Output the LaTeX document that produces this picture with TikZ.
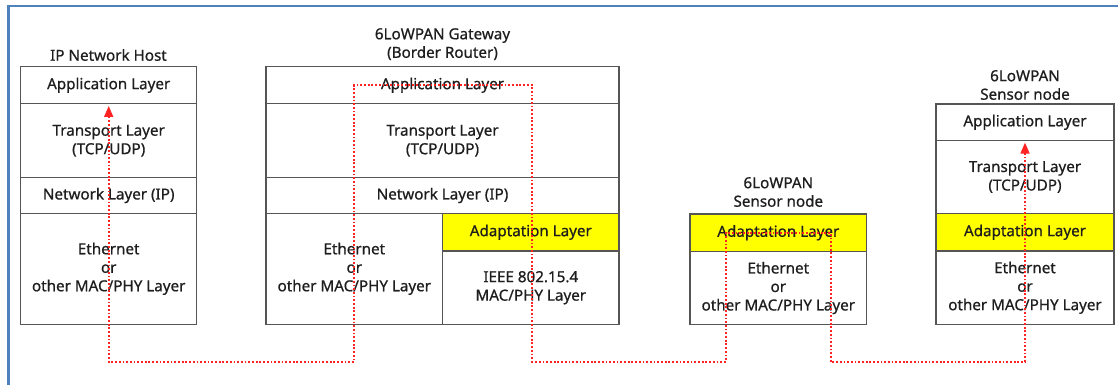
\documentclass[tikz,border=0pt]{standalone}
\usepackage{fontspec}
\setmainfont{Noto Sans}
\newfontface\layface{Noto Sans}[FakeBold=0.7]
\usetikzlibrary{arrows.meta,calc}
\definecolor{frameblue}{RGB}{79,129,189}
\definecolor{boxline}{RGB}{85,85,85}
\definecolor{txt}{RGB}{30,30,30}
\definecolor{adaptyellow}{RGB}{255,255,0}
\definecolor{flowred}{RGB}{255,35,35}
\newcommand\layfont{\layface\fontsize{15.2}{18.5}\selectfont}
\tikzset{
  cell/.style={draw=boxline, line width=1.2pt, fill=white, inner sep=0pt, outer sep=0pt,
               align=center, text=txt, font=\layfont},
  adaptcell/.style={cell, fill=adaptyellow},
  devtitle/.style={inner sep=0pt, align=center, text=txt, font=\layfont},
  flow/.style={draw=flowred, line width=1.8pt, dash pattern=on 1.8pt off 1.9pt,
               {Triangle[width=9pt,length=11pt]}-{Triangle[width=9pt,length=11pt]}},
}
\begin{document}
\begin{tikzpicture}[x=1pt,y=-1pt]
\useasboundingbox (0,0) rectangle (1118,385);
\fill[white] (0,0) rectangle (1118,385);
\draw[frameblue, line width=2.5pt] (8.3,385) -- (8.3,6.2) -- (1118,6.2);

% IP Network Host
\node[devtitle] (t1) at (108.5,55) {IP Network Host};
\node[cell, minimum width=176pt, minimum height=37pt] (h1app) at (108.7,85.2) {Application Layer};
\node[cell, minimum width=176pt, minimum height=74pt] (h1tr) at (108.7,140.7) {Transport Layer\\(TCP/UDP)};
\node[cell, minimum width=176pt, minimum height=35.6pt] (h1net) at (108.7,195.5) {Network Layer (IP)};
\node[cell, minimum width=176pt, minimum height=111pt] (h1eth) at (108.7,268.8) {Ethernet\\or\\other MAC/PHY Layer};

% Gateway
\node[devtitle] (t2) at (442.5,44.2) {6LoWPAN Gateway\\(Border Router)};
\node[cell, minimum width=353pt, minimum height=37pt] (gwapp) at (442.5,85.2) {Application Layer};
\node[cell, minimum width=353pt, minimum height=74pt] (gwtr) at (442.5,140.7) {Transport Layer\\(TCP/UDP)};
\node[cell, minimum width=353pt, minimum height=35.6pt] (gwnet) at (442.5,195.5) {Network Layer (IP)};
\node[cell, minimum width=176.7pt, minimum height=111pt] (gweth) at (354.3,268.8) {Ethernet\\or\\other MAC/PHY Layer};
\node[adaptcell, minimum width=176.3pt, minimum height=37.7pt] (gwad) at (530.8,232.2) {Adaptation Layer};
\node[cell, minimum width=176.3pt, minimum height=73.3pt] (gwieee) at (530.8,287.7) {IEEE 802.15.4\\MAC/PHY Layer};

% Sensor node (middle)
\node[devtitle] (t3) at (778.3,192) {6LoWPAN\\Sensor node};
\node[adaptcell, minimum width=176.7pt, minimum height=37.7pt] (s1ad) at (778.3,232.8) {Adaptation Layer};
\node[cell, minimum width=176.7pt, minimum height=72.6pt] (s1eth) at (778.3,288) {Ethernet\\or\\other MAC/PHY Layer};

% Sensor node (right)
\node[devtitle] (t4) at (1025,85) {6LoWPAN\\Sensor node};
\node[cell, minimum width=178pt, minimum height=36.7pt] (s2app) at (1025,122.3) {Application Layer};
\node[cell, minimum width=178pt, minimum height=72.6pt] (s2tr) at (1025,177) {Transport Layer\\(TCP/UDP)};
\node[adaptcell, minimum width=178pt, minimum height=37.7pt] (s2ad) at (1025,232.2) {Adaptation Layer};
\node[cell, minimum width=178pt, minimum height=73.3pt] (s2eth) at (1025,287.7) {Ethernet\\or\\other MAC/PHY Layer};

% data flow
\coordinate (lane) at (0,361.7);
\draw[flow] ([yshift=-2.3pt]h1app.south) -- (h1app.south |- lane)
  -| (gweth.center |- gwapp.center)
  -| ([xshift=1.5pt]gwieee.center |- lane)
  -| ([xshift=-52.3pt]s1ad.center)
  -| ([xshift=52.4pt]s1ad.center |- lane)
  -| ([yshift=-2pt]s2app.south);
\end{tikzpicture}
\end{document}
